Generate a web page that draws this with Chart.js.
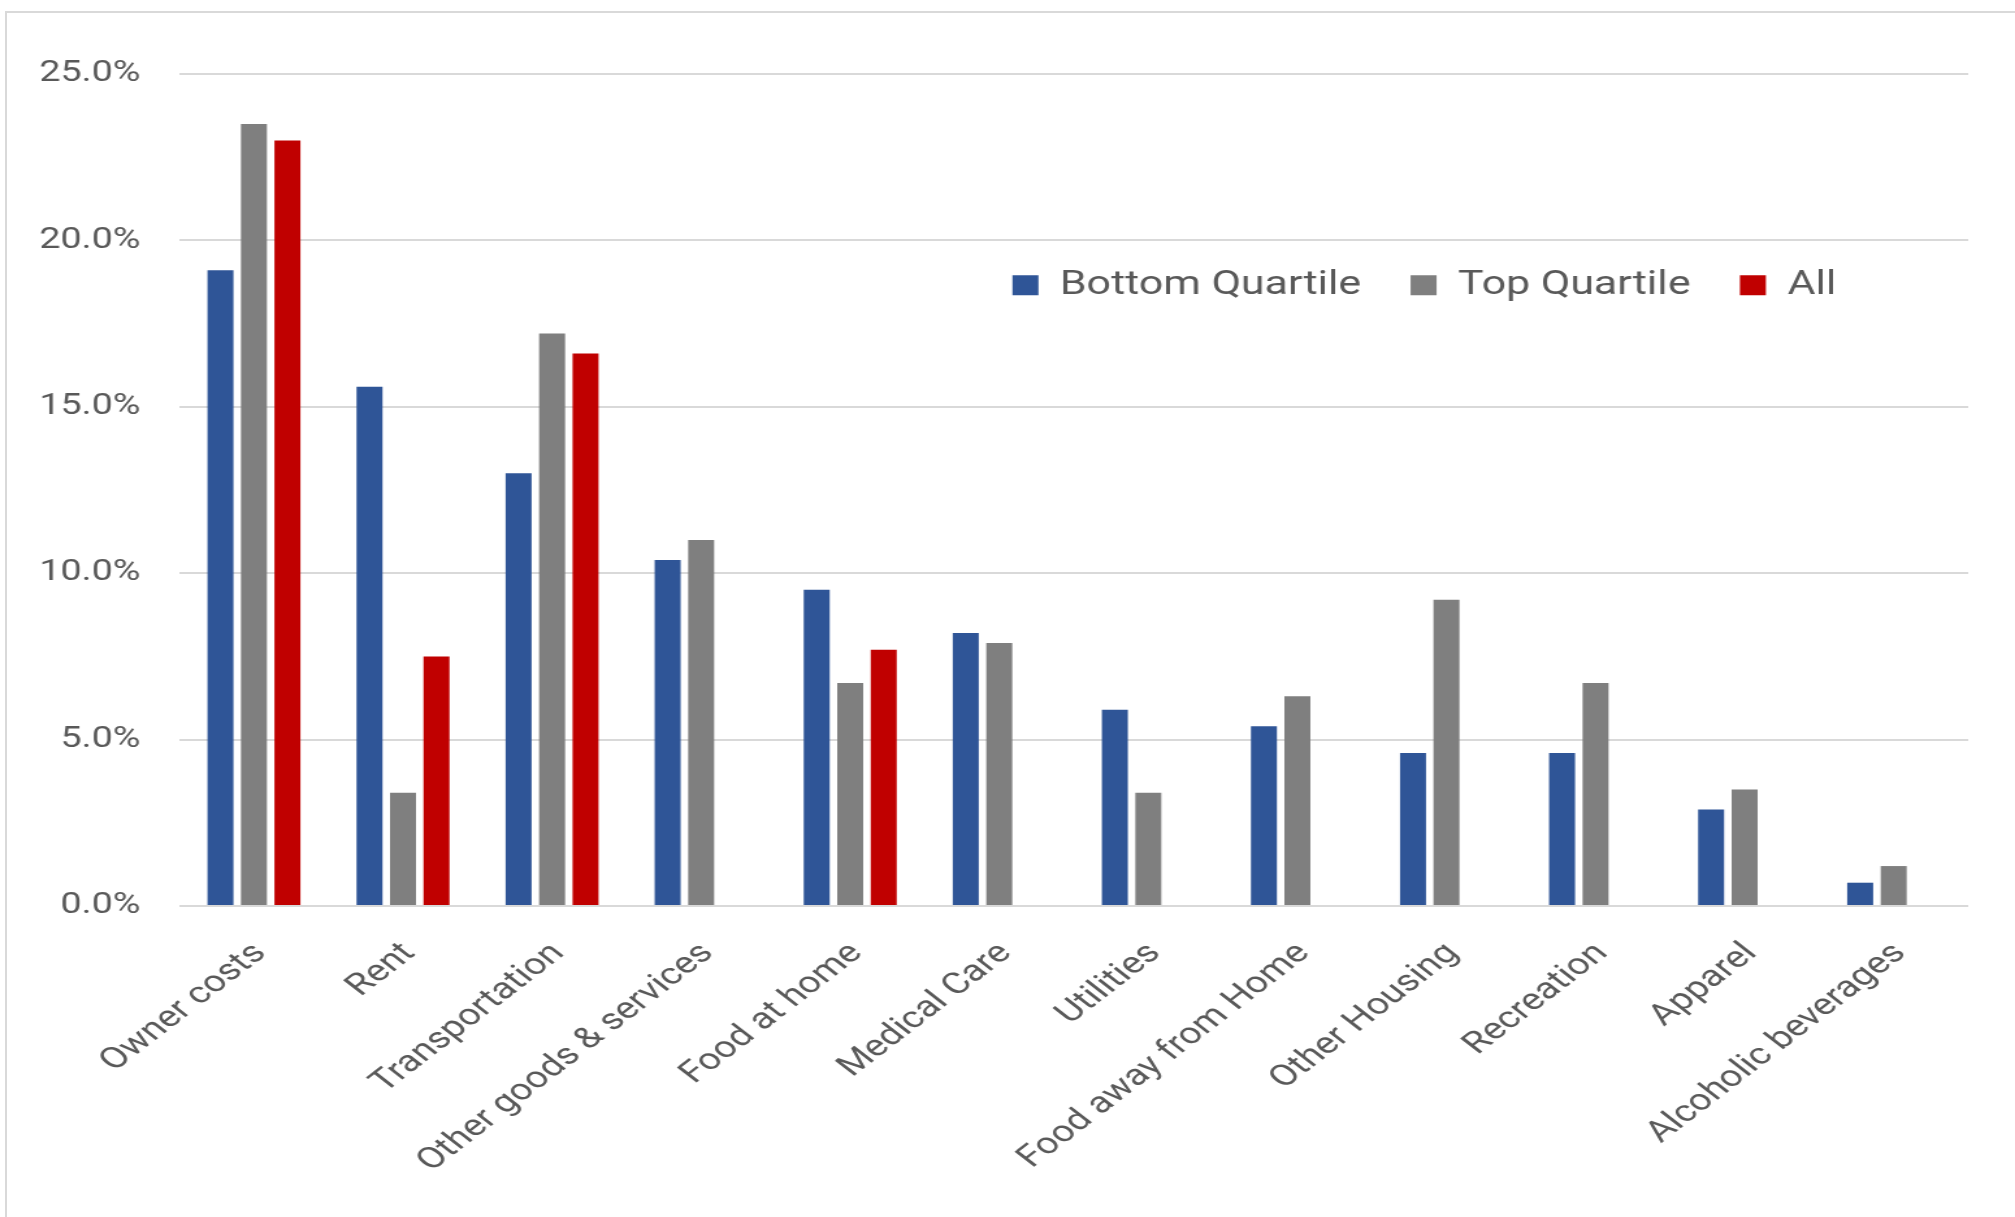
<!DOCTYPE html>
<html>
<head>
<meta charset="utf-8">
<title>Spending shares by quartile</title>
<script src="https://cdn.jsdelivr.net/npm/chart.js@4.4.1/dist/chart.umd.min.js"></script>
<style>
  html, body { margin: 0; padding: 0; background: #fff; }
  body { width: 2015px; height: 1217px; overflow: hidden; position: relative; }
  #frame {
    position: absolute; left: 5px; top: 11px; right: 0; bottom: 0;
    border-left: 2px solid #d9d9d9; border-top: 2px solid #d9d9d9;
  }
  /* chart is laid out narrower and then stretched sideways */
  #wrap {
    position: absolute; left: 0; top: 0; width: 1550px; height: 1217px;
    transform: scaleX(1.3); transform-origin: 0 0;
  }
</style>
</head>
<body>
<div id="frame"></div>
<div id="wrap"><canvas id="shareChart"></canvas></div>
<script>
const categories = [
  'Owner costs', 'Rent', 'Transportation', 'Other goods & services',
  'Food at home', 'Medical Care', 'Utilities', 'Food away from Home',
  'Other Housing', 'Recreation', 'Apparel', 'Alcoholic beverages'
];
const bottomQuartile = [19.1, 15.6, 13.0, 10.4, 9.5, 8.2, 5.9, 5.4, 4.6, 4.6, 2.9, 0.7];
const topQuartile    = [23.5, 3.4, 17.2, 11.0, 6.7, 7.9, 3.4, 6.3, 9.2, 6.7, 3.5, 1.2];
const allHouseholds  = [23.0, 7.5, 16.6, null, 7.7, null, null, null, null, null, null, null];
const yTicks = [0, 5, 10, 15, 20, 25];

const textColor = '#595959';
const gridColor = '#d9d9d9';
const fontFamily = 'Roboto';

// move the legend from the top strip into the plot, level with ~18.5%
const legendInside = {
  id: 'legendInside',
  afterLayout(chart) {
    const lg = chart.legend;
    const area = chart.chartArea;
    const pad = lg.options.labels.padding;
    const fs = lg.options.labels.font.size;
    const left = area.left + area.width * 0.4657 - pad;
    const top = chart.scales.y.getPixelForValue(18.55) - pad - fs * 0.6;
    lg.left = left;
    lg.right = left + area.width;
    lg.top = top;
    lg.bottom = top + fs * 1.2 + pad * 2;
  }
};

const ctx = document.getElementById('shareChart').getContext('2d');

new Chart(ctx, {
  type: 'bar',
  data: {
    labels: categories,
    datasets: [
      { label: 'Bottom Quartile', data: bottomQuartile, backgroundColor: '#2f5597' },
      { label: 'Top Quartile', data: topQuartile, backgroundColor: '#7f7f7f' },
      { label: 'All', data: allHouseholds, backgroundColor: '#c00000' }
    ]
  },
  plugins: [legendInside],
  options: {
    responsive: true,
    maintainAspectRatio: false,
    animation: false,
    datasets: {
      bar: { categoryPercentage: 0.674, barPercentage: 0.776, borderWidth: 0 }
    },
    layout: { padding: { top: 73, right: 36, bottom: 21, left: 0 } },
    plugins: {
      tooltip: { enabled: false },
      legend: {
        position: 'top',
        align: 'start',
        maxHeight: 1,
        labels: {
          color: textColor,
          font: { family: fontFamily, size: 33 },
          boxWidth: 20,
          boxHeight: 20,
          padding: 38
        }
      }
    },
    scales: {
      x: {
        grid: { display: false },
        border: { display: false },
        ticks: {
          color: textColor,
          font: { family: fontFamily, size: 30 },
          minRotation: 45,
          maxRotation: 45,
          autoSkip: false,
          padding: 22,
          labelOffset: 5
        },
        afterFit: axis => { axis.height = 290; }
      },
      y: {
        min: 0,
        max: 25,
        border: { display: false },
        grid: { color: gridColor, lineWidth: 2, drawTicks: false },
        ticks: {
          color: textColor,
          font: { family: fontFamily, size: 29 },
          padding: 30,
          callback: v => v.toFixed(1) + '%'
        },
        afterBuildTicks: axis => { axis.ticks = yTicks.map(v => ({ value: v })); },
        afterFit: axis => { axis.width = 138; }
      }
    }
  }
});
</script>
</body>
</html>
